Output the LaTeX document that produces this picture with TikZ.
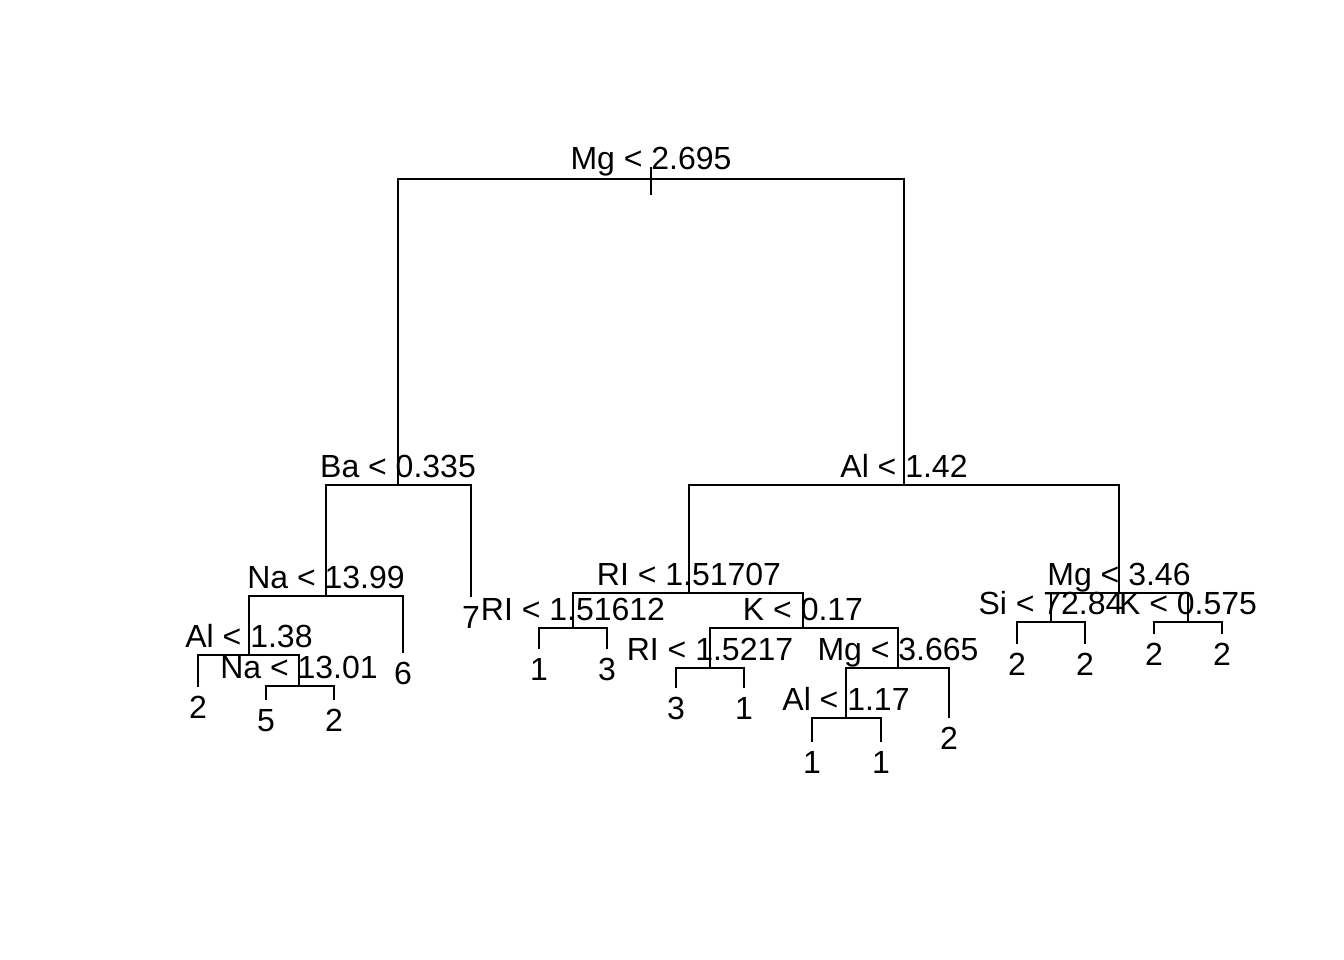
\documentclass[tikz,border=0pt]{standalone}
\usepackage{fontspec}
\setmainfont{Liberation Sans}
\begin{document}
\begin{tikzpicture}[x=1pt, y=-1pt, line width=2pt,
    splitlab/.style={anchor=base, inner sep=0pt, font=\fontsize{32}{38}\selectfont},
    leaflab/.style={anchor=base, inner sep=0pt, font=\fontsize{32}{38}\selectfont}]
    % --- 画布大小 ---
    \useasboundingbox (0,0) rectangle (1344,960);
    \def\gap{8pt}      % 分裂标签基线在节点上方
    \def\drop{-31pt}   % 叶子标签基线在叶端下方

    % --- 分裂节点 ---
    \coordinate (mgA) at (651,179);
    \coordinate (baA) at (398,485);
    \coordinate (alA) at (904,485);
    \coordinate (naA) at (326,596);
    \coordinate (alB) at (249,655);
    \coordinate (naB) at (299,686);
    \coordinate (riA) at (689,593);
    \coordinate (riB) at (573,628);
    \coordinate (kA)  at (803,628);
    \coordinate (riC) at (710,668);
    \coordinate (mgC) at (898,668);
    \coordinate (alC) at (846,718);
    \coordinate (mgB) at (1119,593);
    \coordinate (siA) at (1051,622);
    \coordinate (kB)  at (1188,622);

    % --- 叶子端点 ---
    \coordinate (l7)  at (471,597);
    \coordinate (l6)  at (403,653);
    \coordinate (lA)  at (198,687);
    \coordinate (lB)  at (266,700);
    \coordinate (lC)  at (334,700);
    \coordinate (lD)  at (539,649);
    \coordinate (lE)  at (607,649);
    \coordinate (lF)  at (676,688);
    \coordinate (lG)  at (744,688);
    \coordinate (lH)  at (812,742);
    \coordinate (lI)  at (881,742);
    \coordinate (lJ)  at (949,718);
    \coordinate (lK)  at (1017,644);
    \coordinate (lL)  at (1085,644);
    \coordinate (lM)  at (1154,634);
    \coordinate (lN)  at (1222,634);

    % --- 树枝 ---
    \draw ([yshift=12pt]mgA) -- ([yshift=-16pt]mgA);
    \draw (baA) |- (mgA) -| (alA);
    \draw (naA) |- (baA) -| (l7);
    \draw (alB) |- (naA) -| (l6);
    \draw (lA) |- (alB) -| (naB);
    \draw (lB) |- (naB) -| (lC);
    \draw (riA) |- (alA) -| (mgB);
    \draw (riB) |- (riA) -| (kA);
    \draw (lD) |- (riB) -| (lE);
    \draw (riC) |- (kA) -| (mgC);
    \draw (lF) |- (riC) -| (lG);
    \draw (alC) |- (mgC) -| (lJ);
    \draw (lH) |- (alC) -| (lI);
    \draw (siA) |- (mgB) -| (kB);
    \draw (lK) |- (siA) -| (lL);
    \draw (lM) |- (kB) -| (lN);

    % --- 分裂标签 ---
    \node[splitlab] (mgAt) at ([yshift=9pt]mgA) {Mg < 2.695};
    \node[splitlab] (baAt) at ([yshift=\gap]baA) {Ba < 0.335};
    \node[splitlab] (alAt) at ([yshift=\gap]alA) {Al < 1.42};
    \node[splitlab] (naAt) at ([yshift=\gap]naA) {Na < 13.99};
    \node[splitlab] (alBt) at ([yshift=\gap]alB) {Al < 1.38};
    \node[splitlab] (naBt) at ([yshift=\gap]naB) {Na < 13.01};
    \node[splitlab] (riAt) at ([yshift=\gap]riA) {RI < 1.51707};
    \node[splitlab] (riBt) at ([yshift=\gap]riB) {RI < 1.51612};
    \node[splitlab] (kAt)  at ([yshift=\gap]kA)  {K < 0.17};
    \node[splitlab] (riCt) at ([yshift=\gap]riC) {RI < 1.5217};
    \node[splitlab] (mgCt) at ([yshift=\gap]mgC) {Mg < 3.665};
    \node[splitlab] (alCt) at ([yshift=\gap]alC) {Al < 1.17};
    \node[splitlab] (mgBt) at ([yshift=\gap]mgB) {Mg < 3.46};
    \node[splitlab] (siAt) at ([yshift=\gap]siA) {Si < 72.84};
    \node[splitlab] (kBt)  at ([yshift=\gap]kB)  {K < 0.575};

    % --- 叶子标签 ---
    \node[leaflab] (l7t) at ([yshift=\drop]l7) {7};
    \node[leaflab] (l6t) at ([yshift=\drop]l6) {6};
    \node[leaflab] (lAt) at ([yshift=\drop]lA) {2};
    \node[leaflab] (lBt) at ([yshift=\drop]lB) {5};
    \node[leaflab] (lCt) at ([yshift=\drop]lC) {2};
    \node[leaflab] (lDt) at ([yshift=\drop]lD) {1};
    \node[leaflab] (lEt) at ([yshift=\drop]lE) {3};
    \node[leaflab] (lFt) at ([yshift=\drop]lF) {3};
    \node[leaflab] (lGt) at ([yshift=\drop]lG) {1};
    \node[leaflab] (lHt) at ([yshift=\drop]lH) {1};
    \node[leaflab] (lIt) at ([yshift=\drop]lI) {1};
    \node[leaflab] (lJt) at ([yshift=\drop]lJ) {2};
    \node[leaflab] (lKt) at ([yshift=\drop]lK) {2};
    \node[leaflab] (lLt) at ([yshift=\drop]lL) {2};
    \node[leaflab] (lMt) at ([yshift=\drop]lM) {2};
    \node[leaflab] (lNt) at ([yshift=\drop]lN) {2};

\end{tikzpicture}
\end{document}
